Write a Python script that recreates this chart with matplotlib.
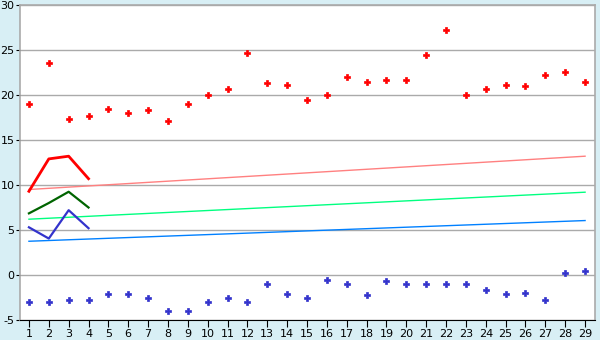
import matplotlib.pyplot as plt

plt.rcParams['axes.unicode_minus'] = False

x = list(range(1, 30))

top_pts = [19.0, 23.6, 17.3, 17.7, 18.5, 18.0, 18.3, 17.1, 19.0, 20.0,
           20.7, 24.7, 21.3, 21.1, 19.4, 20.0, 22.0, 21.4, 21.7, 21.7,
           24.4, 27.2, 20.0, 20.7, 21.1, 21.0, 22.2, 22.6, 21.5]
bottom_pts = [-3.0, -3.0, -2.8, -2.8, -2.15, -2.15, -2.5, -4.0, -4.0, -3.0,
              -2.5, -3.0, -1.05, -2.15, -2.6, -0.6, -1.05, -2.25, -0.7, -1.05,
              -0.95, -1.05, -1.05, -1.7, -2.15, -2.05, -2.8, 0.2, 0.4]

x_short = [1, 2, 3, 4]
red_line = [9.3, 12.9, 13.2, 10.7]
green_line = [6.85, 8.0, 9.25, 7.5]
blue_line = [5.3, 4.05, 7.2, 5.2]

x_trend = [1, 29]
trend_red = [9.5, 13.2]
trend_green = [6.2, 9.2]
trend_blue = [3.75, 6.05]

bg = '#D8EFF5'
fig = plt.figure(figsize=(6, 3.4), dpi=100, facecolor=bg)
ax = fig.add_axes([20/600, 1-320/340, 575/600, 315/340])
ax.set_facecolor('white')

ax.plot(x_trend, trend_red, color='#FF8080', lw=1)
ax.plot(x_trend, trend_green, color='#00FF80', lw=1)
ax.plot(x_trend, trend_blue, color='#0080FF', lw=1)

ax.plot(x_short, red_line, color='#FF0000', lw=2)
ax.plot(x_short, green_line, color='#006400', lw=1.6)
ax.plot(x_short, blue_line, color='#3333CC', lw=1.6)

ax.plot(x, top_pts, 'P', color='#FF0000', ms=4.8, mew=0.5, ls='none')
ax.plot(x, bottom_pts, 'P', color='#3333CC', ms=4.8, mew=0.5, ls='none')

ax.set_xlim(0.55, 29.5)
ax.set_ylim(-5, 30)
ax.set_xticks(x)
ax.set_yticks(range(-5, 31, 5))
ax.yaxis.grid(True, color='#AAAAAA', lw=1)
ax.set_axisbelow(True)
for s in ['left', 'top', 'right']:
    ax.spines[s].set_color('#AAAAAA')
    ax.spines[s].set_linewidth(1.2)
ax.spines['bottom'].set_color('black')
ax.tick_params(axis='x', length=5, color='black', labelsize=8, pad=1.5)
ax.tick_params(axis='y', length=3, color='black', labelsize=8, pad=1)

fig.savefig('out.png', dpi=100, facecolor=bg)
